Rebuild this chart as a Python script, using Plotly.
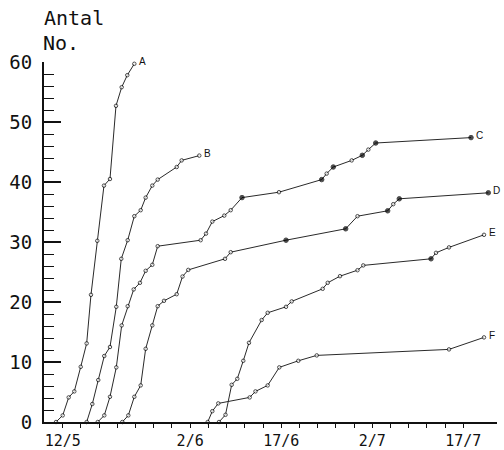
import plotly.graph_objects as go
import pandas as pd

# Day offsets are counted from 12 May (the first labelled tick)
A_day = [-1.10, 0.0, 0.99, 1.91, 2.97, 3.95, 4.66, 5.70, 6.80, 7.79, 8.78, 9.72, 10.64, 11.80]
A_val = [0, 1.1, 4.1, 5.1, 9.2, 13.1, 21.2, 30.2, 39.4, 40.5, 52.7, 55.8, 57.8, 59.7]
A_filled = []

B_day = [3.95, 4.88, 5.86, 6.85, 7.79, 8.83, 9.65, 10.71, 11.80, 12.85, 13.67, 14.76, 15.65, 18.78, 19.60, 22.50]
B_val = [0, 3.0, 7.0, 11.0, 12.5, 19.2, 27.2, 30.3, 34.3, 35.3, 37.4, 39.4, 40.4, 42.5, 43.6, 44.4]
B_filled = []

C_day = [5.77, 6.85, 7.79, 8.83, 9.72, 10.71, 11.70, 12.73, 13.67, 14.76, 15.65, 22.73, 23.61, 24.65,
         26.62, 27.68, 29.54, 35.63, 42.67, 43.49, 44.58, 47.61, 49.36, 50.35, 51.57, 67.27]
C_val = [0, 1.1, 4.2, 9.1, 16.1, 19.3, 22.1, 23.2, 25.2, 26.2, 29.3, 30.3, 31.4, 33.4,
         34.4, 35.3, 37.4, 38.3, 40.4, 41.4, 42.5, 43.6, 44.45, 45.4, 46.5, 47.4]
C_filled = [16, 18, 20, 22, 24, 25]

D_day = [9.82, 10.81, 11.80, 12.85, 13.67, 14.76, 15.65, 16.69, 18.78, 19.74, 20.69, 26.74, 27.68,
         36.79, 46.62, 48.57, 53.54, 54.46, 55.45, 70.12]
D_val = [0, 1.1, 4.2, 6.1, 12.2, 16.1, 19.3, 20.2, 21.3, 24.25, 25.35, 27.2, 28.3,
         30.3, 32.2, 34.3, 35.2, 36.3, 37.2, 38.2]
D_filled = [13, 14, 16, 18, 19]

E_day = [25.75, 26.82, 27.84, 28.76, 29.75, 30.69, 32.78, 33.77, 36.79, 37.73, 42.83, 43.66, 45.68,
         48.57, 49.52, 60.68, 61.50, 63.64, 69.41]
E_val = [0, 1.2, 6.2, 7.2, 10.2, 13.2, 17.0, 18.2, 19.2, 20.1, 22.2, 23.2, 24.3,
         25.3, 26.1, 27.2, 28.2, 29.1, 31.2]
E_filled = [15]

F_day = [23.89, 24.65, 25.63, 30.81, 31.76, 33.77, 35.68, 38.81, 41.85, 63.64, 69.41]
F_val = [0, 1.8, 3.1, 4.1, 5.1, 6.1, 9.1, 10.2, 11.1, 12.1, 14.1]
F_filled = []

series_names = ["A", "B", "C", "D", "E", "F"]

tick_days = list(range(0, 67, 3))
tick_labels = {0: "12/5", 21: "2/6", 36: "17/6", 51: "2/7", 66: "17/7"}

BASE = pd.Timestamp("1980-05-12")


def to_dates(days):
    return [BASE + pd.Timedelta(days=d) for d in days]


series = [
    ("A", A_day, A_val, A_filled),
    ("B", B_day, B_val, B_filled),
    ("C", C_day, C_val, C_filled),
    ("D", D_day, D_val, D_filled),
    ("E", E_day, E_val, E_filled),
    ("F", F_day, F_val, F_filled),
]

fig = go.Figure()
annotations = []
for name, days, vals, filled in series:
    colors = ["black" if i in filled else "white" for i in range(len(vals))]
    sizes = [4.5 if i in filled else 3.5 for i in range(len(vals))]
    fig.add_trace(go.Scatter(
        x=to_dates(days), y=vals, mode="lines+markers", name=name,
        line=dict(color="#2a2a2a", width=1),
        marker=dict(color=colors, size=sizes, line=dict(color="black", width=1)),
        cliponaxis=False, showlegend=False,
    ))
    annotations.append(dict(
        x=to_dates([days[-1]])[0], y=vals[-1], text=name, showarrow=False,
        xanchor="left", yanchor="middle", xshift=3, yshift=2,
        font=dict(family="Liberation Sans, Arial", size=10, color="#111"),
    ))

annotations.append(dict(xref="paper", yref="paper", x=-0.004, y=1.122, text="Antal",
                        showarrow=False, xanchor="left", yanchor="middle",
                        font=dict(family="DejaVu Sans Mono", size=20, color="#111")))
annotations.append(dict(xref="paper", yref="paper", x=-0.006, y=1.054, text="No.",
                        showarrow=False, xanchor="left", yanchor="middle",
                        font=dict(family="DejaVu Sans Mono", size=20, color="#111")))

fig.update_layout(
    width=504, height=450,
    margin=dict(l=44, r=7, t=62, b=28, autoexpand=False),
    paper_bgcolor="white", plot_bgcolor="white",
    annotations=annotations,
)
fig.update_xaxes(
    type="date", automargin=False,
    range=[BASE + pd.Timedelta(days=-3.08), BASE + pd.Timedelta(days=71.55)],
    showline=True, linecolor="#111", linewidth=1.5,
    ticks="outside", ticklen=4, tickwidth=1, tickcolor="#111",
    tickvals=to_dates(tick_days),
    ticktext=[tick_labels.get(d, "") for d in tick_days],
    tickfont=dict(family="DejaVu Sans Mono", size=15, color="#111"),
    ticklabelstandoff=0,
    showgrid=False, zeroline=False,
)
fig.update_yaxes(
    range=[0, 60], tick0=0, dtick=10, automargin=False,
    showline=True, linecolor="#111", linewidth=2,
    ticks="inside", ticklen=17, tickwidth=1.5, tickcolor="#111",
    minor=dict(dtick=2, tick0=0, ticks="inside", ticklen=10, tickwidth=1, tickcolor="#111", showgrid=False),
    tickfont=dict(family="DejaVu Sans Mono", size=19, color="#111"),
    ticklabelstandoff=6,
    showgrid=False, zeroline=False,
)

fig.write_html("out.html")
